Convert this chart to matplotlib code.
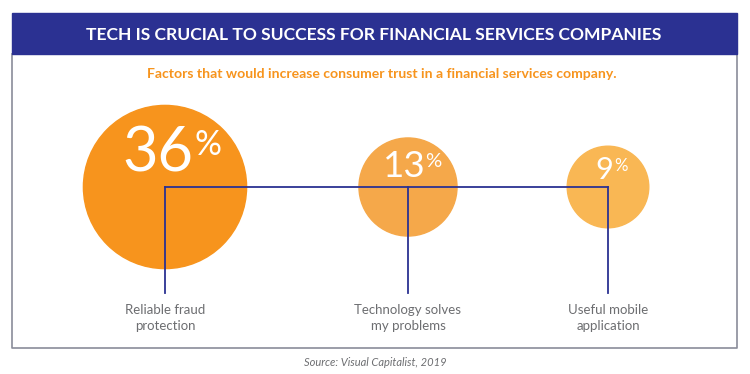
import numpy as np
import matplotlib.pyplot as plt
from matplotlib.patches import Circle, Rectangle

plt.rcParams['font.family'] = ['Lato', 'DejaVu Sans']

# data
labels = ['Reliable fraud\nprotection', 'Technology solves\nmy problems', 'Useful mobile\napplication']
values = np.array([36, 13, 9])
colors = ['#F7941D', '#F5A84A', '#F9B754']

title = 'TECH IS CRUCIAL TO SUCCESS FOR FINANCIAL SERVICES COMPANIES'
subtitle = 'Factors that would increase consumer trust in a financial services company.'
source = 'Source: Visual Capitalist, 2019'

navy = '#2B3192'
grey_txt = '#6D6E71'

fig = plt.figure(figsize=(7.5, 3.74), dpi=100)
ax = fig.add_axes([0, 0, 1, 1])
ax.set_xlim(0, 750)
ax.set_ylim(374, 0)
ax.set_aspect('equal')
ax.axis('off')
renderer = fig.canvas.get_renderer()

def width_px(t):
    return t.get_window_extent(renderer).width

# frame + title bar
ax.plot([12, 12, 737, 737], [54, 348, 348, 54], color='#8A8C99', lw=1.2, zorder=1)
ax.add_patch(Rectangle((12, 13), 725, 41, color=navy, zorder=2))
t = ax.text(374, 35, title, color='white', fontsize=14, fontweight='bold', ha='center', va='center', zorder=3)
# shrink title to fit the width it has in the original
t.set_fontsize(14 * 580 / width_px(t))
ax.text(382, 74, subtitle, color='#F7941D', fontsize=10.1, fontweight='bold', ha='center', va='center')

# bubbles, radius by area
cx = np.array([165, 408, 608])
cy = 187
k = 13.6
radii = k * np.sqrt(values)
for x, r, v, c in zip(cx, radii, values, colors):
    ax.add_patch(Circle((x, cy), r, color=c, zorder=2))
    fs = r * 0.54
    num = ax.text(0, cy - r * 0.41, str(v), color='white', fontsize=fs,
                  ha='left', va='center', zorder=4)
    pct = ax.text(0, cy - r * 0.52, '%', color='white', fontsize=fs * 0.55,
                  ha='left', va='center', zorder=4)
    wn = width_px(num)
    wp = width_px(pct)
    x0 = x + 0.08 * r - (wn + wp) / 2
    num.set_x(x0)
    pct.set_x(x0 + wn + 0.5)

# connector lines
ax.plot([cx[0], cx[-1]], [cy, cy], color=navy, lw=1.3, zorder=3)
for x in cx:
    ax.plot([x, x], [cy, 293], color=navy, lw=1.3, zorder=3)

for x, lab in zip(cx, labels):
    ax.text(x, 317.5, lab, color=grey_txt, fontsize=9.5, ha='center', va='center', linespacing=1.4)

ax.text(375, 363, source, color=grey_txt, fontsize=8, style='italic', ha='center', va='center')

plt.savefig('out.png', dpi=100)
